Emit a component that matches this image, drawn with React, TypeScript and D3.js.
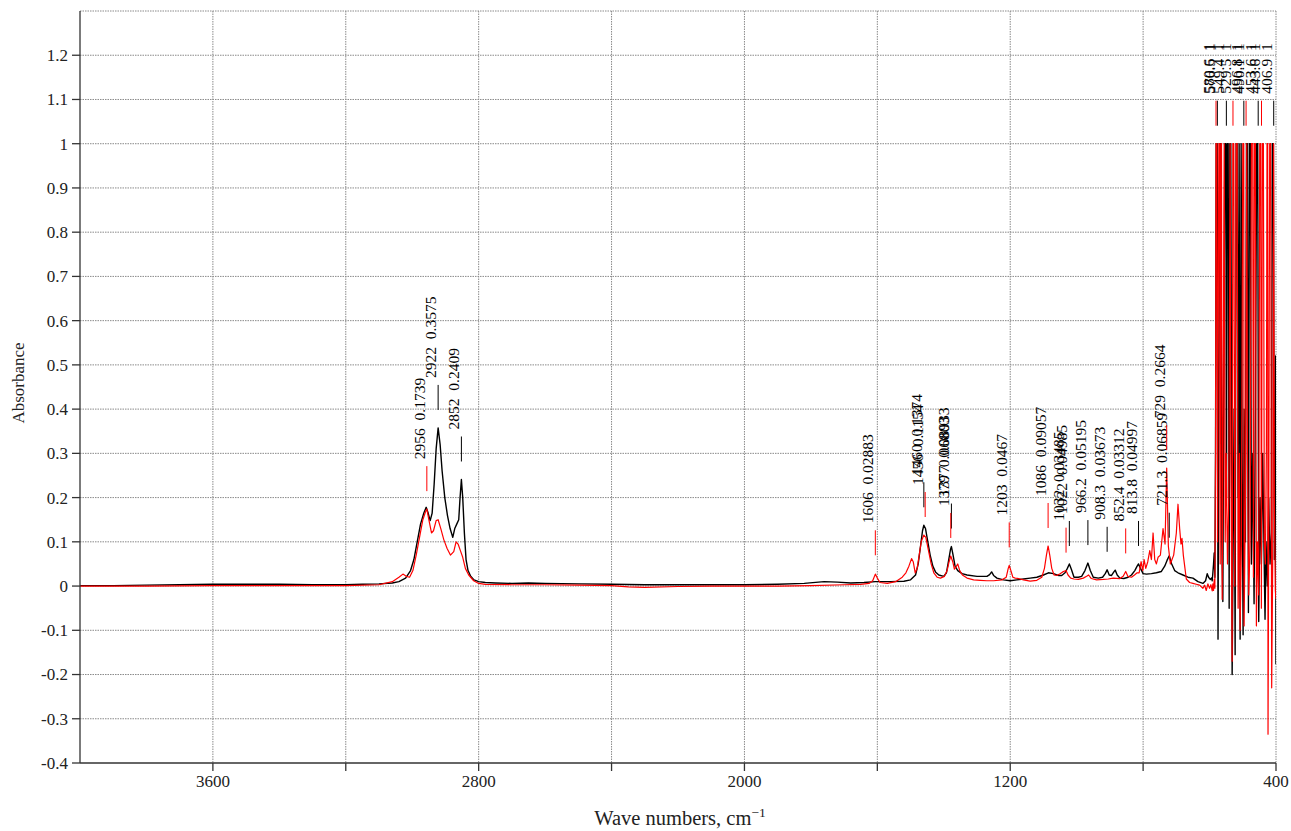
import React from 'react';
import * as d3 from 'd3';

// ---------- data ----------
const xTickValues = [3600, 3200, 2800, 2400, 2000, 1600, 1200, 800, 400];
const xTickLabels = [3600, 2800, 2000, 1200, 400];
const yTickValues = [-0.4, -0.3, -0.2, -0.1, 0, 0.1, 0.2, 0.3, 0.4, 0.5, 0.6, 0.7, 0.8, 0.9, 1, 1.1, 1.2];

const blackSpectrum: [number, number][] = [
  [4000, 0.001], [3900, 0.001], [3800, 0.002], [3700, 0.003], [3600, 0.004], [3500, 0.004], [3400, 0.004],
  [3300, 0.003], [3200, 0.003], [3150, 0.004], [3100, 0.005], [3060, 0.007], [3040, 0.01], [3020, 0.018],
  [3005, 0.035], [2995, 0.06], [2985, 0.1], [2975, 0.14], [2965, 0.165], [2958, 0.178], [2952, 0.165],
  [2946, 0.148], [2940, 0.165], [2934, 0.23], [2928, 0.31], [2922, 0.3575], [2916, 0.32], [2910, 0.26],
  [2902, 0.2], [2894, 0.16], [2886, 0.13], [2878, 0.11], [2872, 0.13], [2866, 0.14], [2860, 0.15],
  [2856, 0.2], [2852, 0.2409], [2848, 0.2], [2843, 0.12], [2838, 0.06], [2832, 0.035], [2824, 0.022],
  [2814, 0.014], [2800, 0.01], [2780, 0.008], [2750, 0.007], [2700, 0.006], [2650, 0.007], [2600, 0.006],
  [2500, 0.005], [2400, 0.004], [2300, 0.003], [2200, 0.003], [2100, 0.003], [2000, 0.003], [1900, 0.004],
  [1820, 0.006], [1760, 0.01], [1720, 0.009], [1680, 0.007], [1640, 0.008], [1606, 0.01], [1560, 0.01],
  [1520, 0.011], [1500, 0.014], [1485, 0.025], [1477, 0.05], [1470, 0.09], [1464, 0.125], [1460, 0.1374],
  [1455, 0.13], [1448, 0.1], [1441, 0.07], [1433, 0.045], [1425, 0.032], [1415, 0.025], [1400, 0.022],
  [1392, 0.03], [1385, 0.06], [1380, 0.082], [1377, 0.0893], [1372, 0.07], [1366, 0.045], [1358, 0.035],
  [1345, 0.028], [1330, 0.025], [1300, 0.022], [1270, 0.022], [1262, 0.026], [1256, 0.032], [1250, 0.024],
  [1240, 0.018], [1220, 0.014], [1200, 0.012], [1180, 0.014], [1160, 0.016], [1140, 0.018], [1120, 0.02],
  [1100, 0.025], [1085, 0.03], [1070, 0.028], [1055, 0.024], [1045, 0.024], [1035, 0.03], [1028, 0.04],
  [1022, 0.0499], [1016, 0.038], [1008, 0.02], [995, 0.02], [985, 0.022], [975, 0.035], [966.2, 0.052],
  [959, 0.035], [950, 0.02], [935, 0.018], [922, 0.02], [914, 0.028], [908.3, 0.0367], [902, 0.025],
  [895, 0.024], [888, 0.032], [884, 0.036], [878, 0.025], [870, 0.018], [858, 0.017], [845, 0.02],
  [835, 0.025], [825, 0.035], [818, 0.045], [813.8, 0.05], [808, 0.04], [800, 0.028], [790, 0.027],
  [775, 0.028], [760, 0.03], [745, 0.033], [735, 0.045], [728, 0.058], [721.3, 0.0686], [714, 0.05],
  [705, 0.035], [695, 0.03], [680, 0.025], [665, 0.02], [650, 0.018], [635, 0.01], [620, 0.006],
  [612, 0.012], [607, 0.028], [603, 0.02], [598, 0.015], [594, 0.018],
  [592, 0.012], [590, 0.03], [588, 0.05], [586, 0.075], [584, 0.02], [582, 0.3], [580, 1], [577, 1],
  [574.5, -0.12], [572, 0.4], [569, 1], [566, 1], [563, 0.1], [560, -0.035], [557, 0.5], [554, 1],
  [551, 1], [549, 0.2], [547, 1], [544, 1], [541, -0.05], [539, 1], [536, 1], [532, -0.2], [529, 0.1],
  [526, 0.4], [523, -0.155], [520, 1], [517, 1], [514, 0.2], [511, 1], [508, -0.12], [505, 1], [502, 0.3],
  [499, -0.11], [496, 0.4], [492, 0.1], [489, 1], [486, 1], [483, -0.06], [480, 1], [477, 1], [474, 0.05],
  [470, 0.3], [466, -0.04], [462, 0.4], [458, 1], [455, 1], [452, -0.08], [448, 0.2], [444, 0.05],
  [440, 0.3], [436, 0.08], [433, -0.075], [430, 0.1], [426, 0.0], [422, 0.2], [418, 0.05], [414, 0.12],
  [411, 1], [408, 1], [405, 0.06], [403, 0.09], [401, 0.52], [400, -0.177],
];

const redSpectrum: [number, number][] = [
  [4000, 0], [3800, 0], [3600, 0.001], [3400, 0.001], [3200, 0.001], [3100, 0.003], [3060, 0.01],
  [3040, 0.02], [3028, 0.027], [3018, 0.022], [3008, 0.02], [2998, 0.035], [2988, 0.07], [2978, 0.11],
  [2968, 0.15], [2960, 0.168], [2956, 0.1739], [2950, 0.15], [2942, 0.12], [2936, 0.125], [2928, 0.148],
  [2922, 0.15], [2914, 0.13], [2905, 0.105], [2895, 0.085], [2885, 0.07], [2875, 0.078], [2868, 0.1],
  [2862, 0.095], [2855, 0.08], [2848, 0.065], [2840, 0.04], [2830, 0.025], [2815, 0.012], [2800, 0.006],
  [2780, 0.004], [2700, 0.003], [2600, 0.003], [2500, 0.002], [2400, 0.001], [2350, -0.002], [2300, -0.003],
  [2200, -0.001], [2100, 0], [2000, 0], [1900, 0], [1800, 0.001], [1700, 0.003], [1650, 0.004],
  [1625, 0.006], [1614, 0.012], [1606, 0.027], [1600, 0.018], [1592, 0.008], [1570, 0.006], [1545, 0.01],
  [1525, 0.02], [1514, 0.03], [1505, 0.045], [1497, 0.062], [1492, 0.055], [1486, 0.03], [1480, 0.04],
  [1474, 0.07], [1468, 0.1], [1460, 0.1154], [1454, 0.11], [1446, 0.08], [1438, 0.05], [1430, 0.03],
  [1420, 0.02], [1410, 0.018], [1398, 0.022], [1390, 0.035], [1384, 0.055], [1379, 0.068], [1373, 0.055],
  [1368, 0.038], [1362, 0.045], [1358, 0.05], [1352, 0.035], [1344, 0.025], [1330, 0.018], [1310, 0.014],
  [1290, 0.013], [1270, 0.012], [1250, 0.012], [1225, 0.014], [1212, 0.02], [1206, 0.04], [1203, 0.0467],
  [1198, 0.035], [1192, 0.02], [1185, 0.018], [1175, 0.017], [1160, 0.014], [1140, 0.011], [1120, 0.013],
  [1105, 0.02], [1097, 0.04], [1091, 0.07], [1086, 0.0906], [1081, 0.07], [1075, 0.04], [1068, 0.025],
  [1060, 0.024], [1050, 0.028], [1042, 0.032], [1036, 0.034], [1032, 0.0349], [1026, 0.025], [1018, 0.018],
  [1008, 0.016], [995, 0.015], [980, 0.018], [970, 0.022], [964, 0.025], [956, 0.017], [940, 0.014],
  [920, 0.015], [905, 0.016], [890, 0.018], [870, 0.017], [860, 0.022], [852.4, 0.0331], [846, 0.022],
  [835, 0.02], [826, 0.025], [818, 0.03], [812, 0.03], [806, 0.055], [801, 0.035], [797, 0.06], [792, 0.04],
  [786, 0.055], [780, 0.08], [775, 0.06], [770, 0.12], [765, 0.06], [760, 0.05], [755, 0.065], [748, 0.07],
  [740, 0.13], [734, 0.095], [729, 0.2664], [724, 0.09], [718, 0.05], [713, 0.06], [708, 0.07], [700, 0.12],
  [695, 0.185], [690, 0.13], [686, 0.095], [683, 0.108], [679, 0.07], [674, 0.04], [670, 0.016], [660, 0.008],
  [650, 0.006], [640, 0.004], [630, 0.002], [620, -0.005], [615, 0.002], [610, -0.01], [605, 0.005],
  [600, -0.005], [596, 0.003], [592, -0.011],
  [590, 0.005], [588, -0.01], [586, 0.015], [584, -0.005], [582, 0.3], [580.6, 1], [578, 1], [576, 0.1],
  [574, 0.6], [572, 1], [570, 1], [568, 0.05], [566, 1], [564, 1], [562, -0.03], [559, 0.4], [556, 1],
  [553, 0.1], [550, 0.3], [546, 0.05], [542, 0.2], [538, 1], [536, 0.3], [532, -0.17], [530, 1], [527, 1],
  [524, 0.0], [520, 1], [517, 1], [514, -0.05], [510, 0.3], [508, -0.1], [504, 0.1], [500, 1], [497, 1],
  [496, -0.09], [492, 0.2], [488, 1], [486, 0.3], [482, -0.02], [478, 0.1], [474, 1], [470, 1], [468, 0.02],
  [465, 1], [462, 1], [459, -0.09], [456, 0.1], [452, -0.02], [449, 1], [446, 1], [444, -0.05], [441, 1],
  [438, 1], [435, 0.1], [432, 0.05], [429, 0.3], [427, 1], [425, 1], [424, -0.335], [422, 0.1], [419, 1],
  [416, 1], [413, -0.23], [410, 0.05], [407, 1], [405, 0.2], [402, -0.01], [400, -0.03],
];

type Peak = { wn: number; value: number; color: string };
const blackPeaks: Peak[] = [
  { wn: 2922, value: 0.3575, color: 'black' },
  { wn: 2852, value: 0.2409, color: 'black' },
  { wn: 1460, value: 0.1374, color: 'black' },
  { wn: 1377, value: 0.08933, color: 'black' },
  { wn: 1022, value: 0.04985, color: 'black' },
  { wn: 966.2, value: 0.05195, color: 'black' },
  { wn: 908.3, value: 0.03673, color: 'black' },
  { wn: 813.8, value: 0.04997, color: 'black' },
  { wn: 721.3, value: 0.06859, color: 'black' },
  { wn: 576.5, value: 1, color: 'black' },
  { wn: 549.4, value: 1, color: 'black' },
  { wn: 496.8, value: 1, color: 'black' },
  { wn: 453.6, value: 1, color: 'black' },
  { wn: 406.9, value: 1, color: 'black' },
];
const redPeaks: Peak[] = [
  { wn: 2956, value: 0.1739, color: 'red' },
  { wn: 1606, value: 0.02883, color: 'red' },
  { wn: 1456, value: 0.1154, color: 'red' },
  { wn: 1379, value: 0.06803, color: 'red' },
  { wn: 1203, value: 0.0467, color: 'red' },
  { wn: 1086, value: 0.09057, color: 'red' },
  { wn: 1032, value: 0.03485, color: 'red' },
  { wn: 852.4, value: 0.03312, color: 'red' },
  { wn: 729, value: 0.2664, color: 'red' },
  { wn: 580.6, value: 1, color: 'red' },
  { wn: 529.5, value: 1, color: 'red' },
  { wn: 490.1, value: 1, color: 'red' },
  { wn: 443.6, value: 1, color: 'red' },
];

// ---------- layout ----------
const W = 1291;
const H = 831;
const L = 80, R = 1276, T = 11, B = 763;
const FONT = 'Liberation Serif, Times New Roman, Times, serif';

export default function App() {
  const x = d3.scaleLinear().domain([4000, 400]).range([L, R]);
  const y = d3.scaleLinear().domain([-0.4, 1.3]).range([B, T]);
  const line = d3.line<[number, number]>().x(d => x(d[0])).y(d => y(d[1]));
  const fmtY = (v: number) => String(Math.round(v * 10) / 10);

  const renderPeak = (p: Peak, i: number) => {
    const px = x(p.wn);
    const py = y(p.value);
    const color = p.color === 'red' ? '#ff0000' : '#000';
    const tx = px - 2;
    const ty = py - 50;
    return (
      <g key={p.color + i}>
        <line x1={px} x2={px} y1={py - 43} y2={py - 18} stroke={color} strokeWidth={1} />
        <text
          x={tx}
          y={ty}
          transform={`rotate(-90, ${tx}, ${ty})`}
          style={{ whiteSpace: 'pre', fontFamily: FONT, fontSize: '15.5px' }}
          fill="#000"
        >{`${p.wn}  ${p.value}`}</text>
      </g>
    );
  };

  const tickStyle = { fontFamily: FONT, fontSize: '17px' };

  return (
    <svg width={W} height={H} style={{ position: 'absolute', left: 0, top: 0, background: '#fff', fontFamily: FONT }}>
      <defs>
        <clipPath id="plotClip">
          <rect x={L} y={T} width={R - L} height={B - T} />
        </clipPath>
      </defs>
      <rect x={0} y={0} width={W} height={H} fill="#fff" />
      {/* grid */}
      {yTickValues.filter(v => v > -0.4).concat([1.3]).map(v => (
        <line key={'gy' + v} x1={L} x2={R} y1={y(v)} y2={y(v)} stroke="#8a8a8a" strokeWidth={1} strokeDasharray="1.5,1" />
      ))}
      {xTickValues.map(v => (
        <line key={'gx' + v} x1={x(v)} x2={x(v)} y1={T} y2={B} stroke="#8a8a8a" strokeWidth={1} strokeDasharray="1.5,1" />
      ))}
      {/* spectra */}
      <g clipPath="url(#plotClip)">
        <path d={line(blackSpectrum) || ''} fill="none" stroke="#000" strokeWidth={1.4} strokeLinejoin="round" />
        <path d={line(redSpectrum) || ''} fill="none" stroke="#ff0000" strokeWidth={1.2} strokeLinejoin="round" />
      </g>
      {/* peak labels */}
      {blackPeaks.map(renderPeak)}
      {redPeaks.map(renderPeak)}
      {/* axes */}
      <line x1={L} x2={L} y1={T} y2={B} stroke="#333" strokeWidth={1.3} />
      <line x1={L} x2={R} y1={B} y2={B} stroke="#333" strokeWidth={1.3} />
      {yTickValues.map(v => (
        <g key={'ty' + v}>
          <line x1={L - 8} x2={L} y1={y(v)} y2={y(v)} stroke="#333" strokeWidth={1.3} />
          <text x={L - 12} y={y(v)} dy="0.35em" textAnchor="end" style={tickStyle} fill="#222">{fmtY(v)}</text>
        </g>
      ))}
      {xTickValues.map(v => (
        <line key={'tx' + v} x1={x(v)} x2={x(v)} y1={B} y2={B + 8} stroke="#333" strokeWidth={1.3} />
      ))}
      {xTickLabels.map(v => (
        <text key={'lx' + v} x={x(v)} y={787} textAnchor="middle" style={tickStyle} fill="#222">{v}</text>
      ))}
      <text x={24} y={383} transform="rotate(-90, 24, 383)" textAnchor="middle" style={tickStyle} fill="#222">Absorbance</text>
      <text x={680} y={825} textAnchor="middle" style={{ fontFamily: FONT, fontSize: '20.5px' }} fill="#222">
        Wave numbers, cm<tspan dy={-8} style={{ fontSize: '13.5px' }}>−1</tspan>
      </text>
    </svg>
  );
}
